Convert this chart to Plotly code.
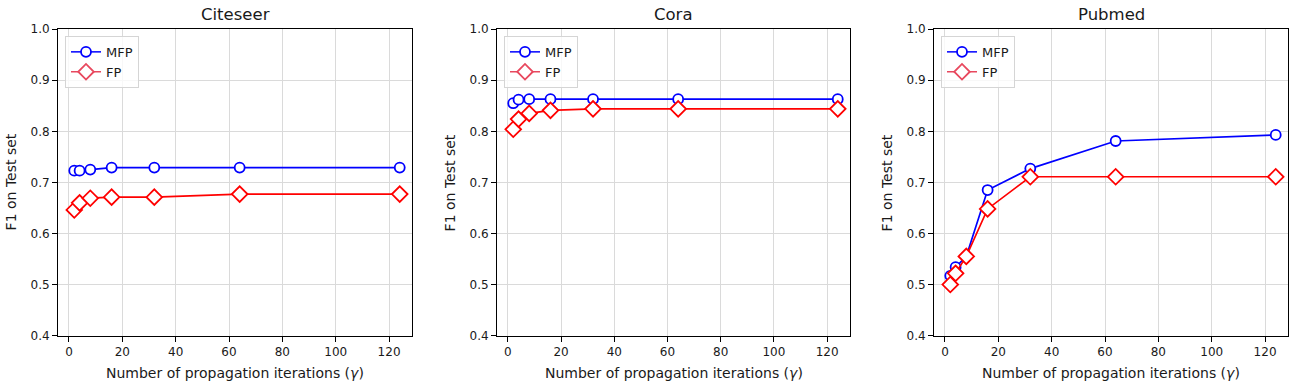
import plotly.graph_objects as go

W, H = 1297, 385

iterations = [2, 4, 8, 16, 32, 64, 124]
datasets = ["Citeseer", "Cora", "Pubmed"]

citeseer_mfp = [0.723, 0.723, 0.725, 0.729, 0.729, 0.729, 0.729]
citeseer_fp = [0.646, 0.660, 0.669, 0.671, 0.671, 0.677, 0.677]
cora_mfp = [0.855, 0.862, 0.863, 0.863, 0.863, 0.863, 0.863]
cora_fp = [0.804, 0.824, 0.835, 0.841, 0.844, 0.844, 0.844]
pubmed_mfp = [0.517, 0.534, 0.555, 0.685, 0.727, 0.781, 0.793]
pubmed_fp = [0.500, 0.522, 0.555, 0.648, 0.711, 0.711, 0.711]

mfp_values = [citeseer_mfp, cora_mfp, pubmed_mfp]
fp_values = [citeseer_fp, cora_fp, pubmed_fp]

x_ticks = [0, 20, 40, 60, 80, 100, 120]
y_ticks = [0.4, 0.5, 0.6, 0.7, 0.8, 0.9, 1.0]

FONT = "DejaVu Sans"
TXT = "#1a1a1a"
BLUE, RED, PINK = "#0000ff", "#ff0000", "#e8485e"

# axes boxes in pixels (left, right); vertical positions in figure px
boxes = [(58, 412), (497, 850), (934, 1288)]
top_px, bot_px = 23, 341
title_px, xlab_px = 7.5, 379.5
ydom = [(H - bot_px) / H, (H - top_px) / H]

mfp_marker = lambda c: dict(symbol="circle", size=10, color="white", line=dict(color=c, width=1.8))
fp_marker = lambda c: dict(symbol="diamond", size=12, color="white", line=dict(color=c, width=1.8))

fig = go.Figure()
layout = dict(
    width=W, height=H, margin=dict(l=0, r=0, t=0, b=0),
    paper_bgcolor="white", plot_bgcolor="white",
    font=dict(family=FONT, size=12, color=TXT),
    annotations=[],
)

for i, name in enumerate(datasets):
    n = "" if i == 0 else str(i + 1)
    xa, ya = "x" + n, "y" + n
    lg = "legend" + n

    fig.add_trace(go.Scatter(
        x=iterations, y=mfp_values[i], xaxis=xa, yaxis=ya, mode="lines+markers",
        line=dict(color=BLUE, width=1.7), marker=mfp_marker(BLUE), showlegend=False))
    fig.add_trace(go.Scatter(
        x=iterations, y=fp_values[i], xaxis=xa, yaxis=ya, mode="lines+markers",
        line=dict(color=RED, width=1.7), marker=fp_marker(RED), showlegend=False))
    # legend-only entries
    fig.add_trace(go.Scatter(
        x=[None], y=[None], xaxis=xa, yaxis=ya, mode="lines+markers", name="MFP", legend=lg,
        line=dict(color=BLUE, width=1.5), marker=mfp_marker(BLUE)))
    fig.add_trace(go.Scatter(
        x=[None], y=[None], xaxis=xa, yaxis=ya, mode="lines+markers", name="FP", legend=lg,
        line=dict(color=PINK, width=1.5), marker=fp_marker(PINK)))

    l, r = boxes[i]
    xdom = [l / W, r / W]
    axcommon = dict(showline=True, linecolor="black", linewidth=1, mirror=True,
                    ticks="outside", ticklen=5, tickcolor="black", tickwidth=1,
                    showgrid=True, gridcolor="#dadada", gridwidth=1, zeroline=False,
                    tickfont=dict(family=FONT, size=12, color=TXT))
    layout["xaxis" + n] = dict(domain=xdom, range=[-4.1, 128.6], tickvals=x_ticks,
                               anchor=ya, **axcommon)
    layout["yaxis" + n] = dict(domain=ydom, range=[0.4, 1.0], tickvals=y_ticks,
                               tickformat=".1f", anchor=xa, **axcommon)
    layout[lg] = dict(x=(l + 7) / W, y=(H - top_px - 7) / H, xanchor="left", yanchor="top",
                      bgcolor="rgba(255,255,255,0.8)", bordercolor="#d5d5d5", borderwidth=1,
                      font=dict(family=FONT, size=13, color=TXT),
                      tracegroupgap=0, itemwidth=30)

    cx = (l + r) / 2 / W
    layout["annotations"] += [
        dict(text=name, x=cx, y=(H - title_px) / H, xref="paper", yref="paper", showarrow=False,
             font=dict(family=FONT, size=16.5, color=TXT), xanchor="center", yanchor="middle"),
        dict(text="Number of propagation iterations (<i>γ</i>)", x=cx, y=(H - xlab_px) / H,
             xref="paper", yref="paper", showarrow=False,
             font=dict(family=FONT, size=14, color=TXT), xanchor="center", yanchor="middle"),
        dict(text="F1 on Test set", x=(l - 47) / W, y=sum(ydom) / 2, xref="paper", yref="paper",
             showarrow=False, textangle=-90,
             font=dict(family=FONT, size=14, color=TXT), xanchor="center", yanchor="middle"),
    ]

fig.update_layout(**layout)
fig.write_html("out.html", config={"displayModeBar": False},
               post_script="document.body.style.margin='0';")
